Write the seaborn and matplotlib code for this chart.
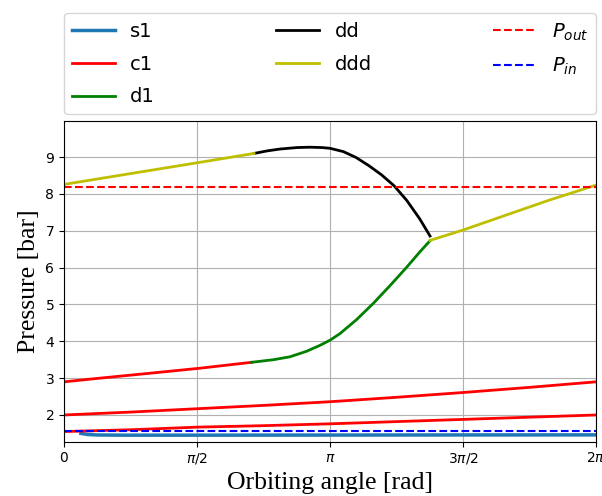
import numpy as np
import pandas as pd
import seaborn as sns
import matplotlib
matplotlib.use("Agg")
import matplotlib.pyplot as plt

PI = np.pi

# suction chamber
s1_theta = [0.20, 0.28, 0.40, 0.70, 1.50, 3.14, 4.70, 6.283]
s1_p = [1.50, 1.47, 1.457, 1.452, 1.452, 1.455, 1.458, 1.46]

# compression chamber, three passes over one revolution
c1a_theta = [0.0, 0.80, 1.571, 2.356, 3.142, 3.927, 4.712, 5.498, 6.283]
c1a_p = [1.55, 1.60, 1.67, 1.71, 1.76, 1.82, 1.88, 1.94, 2.00]
c1b_theta = [0.0, 0.80, 1.571, 2.356, 3.142, 3.927, 4.712, 5.498, 6.283]
c1b_p = [2.00, 2.08, 2.17, 2.26, 2.36, 2.48, 2.61, 2.75, 2.90]
c1c_theta = [0.0, 0.425, 1.0, 1.606, 2.216]
c1c_p = [2.90, 3.00, 3.13, 3.27, 3.43]

# discharge chamber
d1_theta = [2.216, 2.472, 2.669, 2.866, 3.023, 3.142, 3.260, 3.456,
            3.653, 3.850, 4.047, 4.204, 4.323]
d1_p = [3.43, 3.50, 3.58, 3.73, 3.89, 4.03, 4.21, 4.59,
        5.03, 5.51, 6.01, 6.43, 6.73]

dd_theta = [2.244, 2.40, 2.551, 2.75, 2.905, 3.05, 3.142, 3.30, 3.45,
            3.60, 3.75, 3.90, 4.05, 4.20, 4.323]
dd_p = [9.10, 9.17, 9.22, 9.26, 9.27, 9.26, 9.24, 9.15, 8.99,
        8.77, 8.52, 8.22, 7.82, 7.33, 6.86]

ddd_a_theta = [0.0, 0.75, 1.5, 2.244]
ddd_a_p = [8.26, 8.54, 8.82, 9.10]
ddd_b_theta = [4.323, 4.712, 5.15, 5.74, 6.283]
ddd_b_p = [6.74, 7.02, 7.37, 7.84, 8.24]

p_out = 8.2
p_in = 1.57

fig, ax = plt.subplots(figsize=(6.02, 4.96), dpi=100)
fig.subplots_adjust(left=0.1063, right=0.990, bottom=0.1095, top=0.7567)

def seg(theta, p, color, label=None, lw=2, ls="-"):
    df = pd.DataFrame({"theta": theta, "p": p})
    sns.lineplot(data=df, x="theta", y="p", color=color, lw=lw, ls=ls,
                 label=label, ax=ax, sort=False, estimator=None)

seg(s1_theta, s1_p, "#1f77b4", "s1", lw=2.5)
seg(c1a_theta, c1a_p, "r", "c1")
seg(c1b_theta, c1b_p, "r")
seg(c1c_theta, c1c_p, "r")
seg(d1_theta, d1_p, "g", "d1")
seg(dd_theta, dd_p, "k", "dd")
seg(ddd_a_theta, ddd_a_p, "y", "ddd")
seg(ddd_b_theta, ddd_b_p, "y")
seg([0, 2 * PI], [p_out, p_out], "r", r"$P_{out}$", lw=1.5, ls="--")
seg([0, 2 * PI], [p_in, p_in], "b", r"$P_{in}$", lw=1.5, ls="--")

ax.set_xlim(0, 2 * PI)
ax.set_ylim(1.275, 9.99)
ax.set_xticks([0, PI / 2, PI, 3 * PI / 2, 2 * PI])
ax.set_xticklabels(["0", r"$\pi/2$", r"$\pi$", r"$3\pi/2$", r"$2\pi$"])
ax.set_yticks([2, 3, 4, 5, 6, 7, 8, 9])
ax.grid(True)

ax.set_xlabel("Orbiting angle [rad]", family="Liberation Serif", fontsize=18.5)
ax.set_ylabel("Pressure [bar]", family="Liberation Serif", fontsize=18.5)

ax.legend(loc="lower left", bbox_to_anchor=(0, 1.02, 1, 0.2), mode="expand",
          ncol=3, fontsize=14, handlelength=2.2, labelspacing=0.7,
          borderaxespad=0)

fig.savefig("out.png", dpi=100)
